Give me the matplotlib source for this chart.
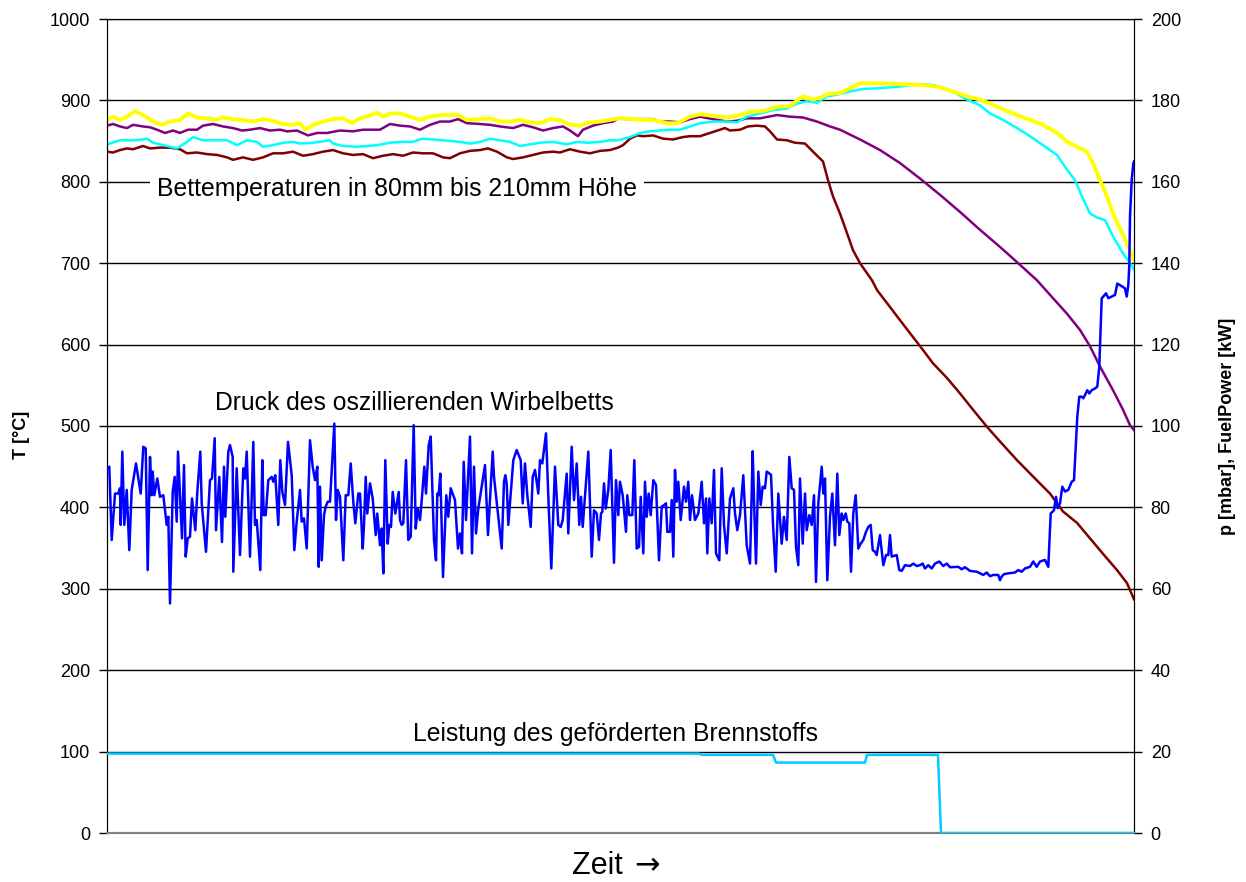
import matplotlib
matplotlib.use("Agg")
import matplotlib.pyplot as plt

plt.rcParams['font.family'] = ['Liberation Sans', 'DejaVu Sans']

# ---- bed temperatures (left axis, °C) ----
t_yellow = [0, 6, 13, 20, 28, 36, 46, 55, 63, 73, 81, 90, 100, 108, 116, 126, 136, 146, 156, 166,
            175, 186, 193, 198, 206, 216, 226, 236, 245, 253, 260, 270, 276, 283, 293, 303, 313, 323,
            333, 343, 351, 360, 373, 383, 393, 403, 413, 423, 433, 443, 453, 463, 473, 483, 493, 503,
            511, 526, 536, 546, 560, 570, 583, 593, 606, 620, 633, 643, 656, 670, 683, 690, 696, 706,
            713, 721, 733, 743, 753, 773, 793, 813, 830, 846, 860, 873, 883, 896, 910, 923, 936, 950,
            960, 970, 980, 986, 993, 1000, 1006, 1013, 1020, 1027]
T_yellow = [876, 880, 876, 880, 887, 882, 874, 870, 874, 876, 884, 879, 878, 876, 879, 877, 876, 874, 877, 875,
            871, 870, 872, 864, 870, 874, 877, 878, 872, 878, 880, 885, 880, 884, 884, 880, 876, 880,
            882, 882, 882, 876, 877, 878, 874, 874, 876, 873, 872, 877, 876, 870, 869, 873, 874, 876,
            878, 877, 876, 876, 872, 872, 880, 883, 881, 879, 882, 886, 887, 892, 893, 900, 905, 901,
            903, 908, 909, 915, 921, 921, 920, 919, 917, 911, 905, 901, 896, 889, 882, 876, 870, 860,
            849, 843, 837, 823, 802, 782, 761, 743, 724, 704]

t_purple = [0, 6, 13, 20, 26, 36, 43, 50, 58, 66, 73, 81, 90, 96, 106, 116, 126, 135, 143, 153,
            163, 173, 180, 190, 201, 210, 220, 233, 246, 256, 266, 273, 283, 293, 303, 313, 323, 333,
            343, 351, 360, 373, 383, 393, 406, 416, 426, 436, 446, 456, 463, 471, 476, 486, 496, 506,
            511, 520, 530, 546, 553, 563, 573, 583, 593, 606, 620, 630, 640, 653, 670, 683, 696, 710,
            723, 733, 753, 773, 793, 813, 833, 853, 873, 893, 913, 930, 946, 960, 973, 983, 993, 1006,
            1016, 1023, 1027]
T_purple = [869, 871, 868, 866, 870, 868, 867, 864, 860, 863, 860, 864, 864, 869, 871, 868, 866, 863, 864, 866,
            863, 864, 862, 863, 857, 860, 860, 863, 862, 864, 864, 864, 871, 869, 868, 864, 870, 874,
            874, 877, 872, 871, 870, 868, 866, 870, 867, 863, 866, 868, 863, 856, 864, 869, 872, 874,
            878, 877, 877, 877, 874, 874, 873, 877, 880, 877, 874, 875, 878, 878, 882, 880, 879, 874,
            868, 864, 852, 839, 823, 804, 784, 763, 741, 720, 698, 679, 657, 638, 618, 598, 573, 544,
            520, 501, 495]

t_cyan = [0, 13, 26, 36, 40, 46, 60, 70, 80, 86, 96, 110, 120, 130, 140, 150, 156, 166, 176, 186,
          193, 206, 223, 226, 236, 250, 260, 270, 283, 293, 306, 315, 326, 336, 353, 363, 373, 383,
          393, 403, 413, 423, 433, 446, 460, 470, 480, 493, 503, 511, 523, 533, 543, 553, 563, 573,
          583, 593, 606, 620, 630, 640, 653, 666, 680, 690, 700, 710, 720, 730, 743, 756, 773, 793,
          810, 826, 840, 850, 860, 873, 883, 896, 910, 923, 936, 950, 960, 968, 975, 983, 990, 998,
          1006, 1016, 1023, 1027]
T_cyan = [846, 851, 851, 852, 853, 848, 844, 841, 849, 855, 851, 851, 851, 845, 851, 849, 843, 845, 848, 849,
          847, 848, 851, 847, 844, 843, 844, 845, 848, 849, 849, 853, 852, 851, 849, 847, 849, 853,
          851, 849, 844, 846, 848, 849, 846, 849, 848, 849, 851, 851, 855, 860, 862, 863, 864, 864,
          868, 872, 874, 874, 873, 880, 884, 888, 890, 896, 899, 897, 905, 907, 911, 914, 915, 917,
          920, 919, 914, 908, 901, 894, 884, 876, 866, 856, 845, 833, 815, 802, 782, 761, 756, 753,
          733, 712, 700, 692]

t_darkred = [0, 6, 13, 20, 26, 36, 43, 53, 63, 73, 80, 90, 100, 110, 120, 126, 136, 146, 156, 166,
             176, 186, 196, 206, 216, 226, 236, 246, 256, 266, 276, 286, 296, 306, 316, 326, 336, 343,
             353, 363, 373, 381, 390, 400, 406, 416, 426, 436, 446, 453, 463, 473, 483, 493, 503, 511,
             516, 523, 530, 536, 546, 556, 566, 576, 583, 593, 603, 613, 618, 623, 633, 641, 650, 658,
             663, 670, 680, 688, 698, 706, 716, 721, 726, 733, 740, 746, 753, 765, 770, 780, 793, 803,
             815, 826, 840, 853, 866, 880, 893, 910, 926, 943, 956, 970, 983, 996, 1010, 1020, 1027]
T_darkred = [837, 836, 839, 841, 840, 844, 841, 842, 842, 840, 835, 836, 834, 833, 830, 827, 830, 827, 830, 835,
             835, 837, 832, 834, 837, 839, 835, 833, 834, 829, 832, 834, 832, 836, 835, 835, 830, 829,
             835, 838, 839, 841, 837, 830, 828, 830, 833, 836, 837, 836, 840, 837, 835, 838, 839, 842,
             845, 853, 857, 856, 857, 853, 852, 855, 856, 856, 860, 864, 866, 863, 864, 868, 869, 868,
             862, 852, 851, 848, 847, 837, 825, 802, 782, 761, 737, 716, 700, 679, 667, 651, 630, 614,
             595, 577, 559, 540, 520, 499, 481, 458, 438, 417, 395, 381, 362, 343, 323, 307, 287]

# ---- fluidised-bed pressure (right axis, mbar) ----
t_druck = [0, 2.3, 4.7, 8, 11.3, 13, 13.7, 15.3, 17.3, 19.7, 22.3, 24.7, 29, 33.7, 36.3, 38.7, 40.7, 43,
           44.7, 45.7, 47.3, 50.3, 53, 56.3, 59.7, 61.3, 63, 65.7, 67.7, 69.7, 71, 75, 77, 78.7, 80.7,
           83, 85, 88.3, 90.3, 93.3, 94.7, 99, 103, 105, 107.7, 109, 112.3, 115, 117, 118.3, 121.3, 123,
           125.7, 126.3, 129.7, 133, 136.3, 138, 139.7, 143, 146.3, 148, 149.7, 153.3, 155.3, 156.7,
           158.7, 161.3, 164.7, 166.3, 168.3, 171.3, 173.3, 175.3, 178, 181, 184.7, 187.3, 189.7, 193,
           194.7, 197, 199.7, 203, 205.7, 208, 210.3, 211.7, 213, 214.7, 217, 218.7, 220.7, 223, 225.3,
           227.3, 229, 230.7, 233, 236.3, 238.7, 241.3, 243.7, 246.3, 248.3, 251.3,
           253, 255.7, 257, 258.7, 260.3, 263, 265.7, 268.7, 270.3, 273, 274.7, 276.3, 278.3, 280.7,
           282.3, 284, 285.7, 288.3, 291.7, 293, 294.7, 296.3, 299, 301.3, 303.7, 306.7, 308.7, 310.7,
           313, 315, 317.3, 319, 321.7, 323.7, 327, 329, 330.3, 331.7, 333.3, 336, 339.3, 341.3, 343.7,
           348, 351, 353, 355, 356.7, 359, 363, 365, 367, 369, 371.3, 378, 381, 385.7, 387, 394.7, 397,
           398.3, 399.7, 401.3, 406.3, 409.7, 413.7, 415.7, 418, 420.3, 423.7, 425.7, 428, 431.3, 433,
           435.3, 439, 441.7, 444.3, 448, 451.3, 453.7, 455.7, 459.7, 461.3, 464.7, 467, 469.7, 472.3,
           474, 475.7, 481.3, 484.7, 487, 489.7, 492, 494, 495.3, 497, 498.7, 501.3,
           503.7, 507, 509, 511.3, 513, 515.7, 519, 520.3, 522.3, 525.3, 527.3, 529.7, 532, 533.7,
           536.3, 538, 539.7, 541.7, 543.7, 546.3, 549, 552, 554.7, 557.3, 559, 560.3, 563, 564.7,
           566.3, 568, 569.7, 571.3, 573.7, 577, 579, 581.3, 583, 585, 588, 591.3, 594.7, 597, 599,
           600.3, 602.3, 604.7, 607, 609, 612.3, 614.7, 617, 619.7, 623, 626.3, 628, 630.3, 633, 636.3,
           639.7, 643, 645.7, 647, 649, 651.3, 653.7, 655.7, 658, 659.7, 662, 664, 666.3, 668.7, 671.3,
           674.7, 677, 679.7, 682.3, 684.7, 687, 689, 691.3, 693, 695.7, 698, 699.7, 702.3, 704.7, 707,
           709, 711.3, 714.7, 716.3, 718, 720.3, 723, 725.3, 728, 730.3, 732.3, 734.7, 736.3, 738.7,
           740.3, 742.3, 744, 746.3, 748.7, 751.3, 753.7, 756.3, 759, 761.3,
           763.7, 765.7, 768, 769.7, 773, 776.3, 779, 781.3, 783, 784.7, 789.7, 792.3, 794.7, 798, 803,
           806.3, 809.7, 813, 815.7, 818, 821.3, 824.7, 828, 832.3, 836.3, 839.7, 843, 851.3, 854.7,
           858, 863, 869.7, 876.3, 879.7, 883, 886.3, 891.3, 893, 894.7, 897, 901.3, 908, 911.3, 914.7,
           918, 923, 926.3, 929.7, 933, 938, 941.3, 943.7, 947, 949, 950.7, 953, 955.3, 958, 961.3,
           964.7, 967, 970.3, 972.3, 974.7, 976.3, 978, 980.3, 982.3, 984.7, 988, 990.3, 992.3, 994.7,
           996.3, 999, 1001.3, 1004.7, 1008, 1010.3, 1013, 1015.7, 1018, 1019.7, 1021.3, 1022.3, 1023,
           1024.7, 1026.3, 1027]
p_druck = [89.2, 90.0, 72.0, 83.4, 83.4, 84.7, 75.7, 93.7, 75.7, 84.3, 69.5, 84.3, 90.8, 83.4, 94.9, 94.5,
           64.6, 92.4, 83.0, 88.8, 83.0, 87.1, 82.6, 83.0, 75.7, 77.7, 56.4, 83.8, 87.5, 76.5, 93.7, 72.4,
           90.4, 67.9, 72.4, 72.8, 82.2, 74.4, 83.8, 93.7, 81.0, 69.1, 86.7, 87.1, 97.0, 74.4, 87.5, 71.5,
           90.0, 77.7, 93.7, 95.3, 92.4, 64.2, 89.6, 68.3, 89.6, 87.1, 93.7, 67.9, 96.1, 75.7, 76.9, 64.6,
           91.6, 78.1, 78.1, 86.7, 87.5, 86.3, 87.9, 75.7, 91.6, 83.8, 80.6, 96.1, 87.9, 69.5, 76.5, 84.3,
           76.5, 77.3, 69.9, 96.5, 90.0, 86.7, 90.0, 65.4, 85.1, 67.0, 78.1, 80.2, 81.4, 81.4, 91.6,
           100.6, 76.9, 84.3, 82.6, 67.0, 83.0, 83.0, 90.8, 81.4, 76.1, 83.4,
           83.4, 69.9, 75.7, 87.5, 78.5, 85.9, 82.2, 73.2, 78.5, 70.7, 74.8, 63.8, 91.6, 71.1, 75.7, 75.2,
           83.8, 78.5, 83.8, 76.9, 75.7, 76.1, 91.6, 72.0, 72.8, 100.2, 74.8, 79.7, 76.9, 82.6, 90.0,
           83.4, 95.3, 97.4, 72.0, 67.0, 83.4, 83.0, 88.3, 62.9, 83.0, 77.7, 84.7, 81.8, 69.9, 73.6, 68.7,
           91.2, 76.9, 97.4, 68.7, 90.0, 73.6, 79.7, 90.4, 73.2, 93.7, 87.5, 69.9, 86.3, 87.9, 85.9, 75.7,
           91.6, 94.1, 91.6, 81.0, 90.8, 83.0, 75.2, 87.5, 89.2, 83.4, 91.6, 90.8, 98.2, 80.2, 65.0, 90.0,
           75.7, 75.2, 76.9, 88.3, 73.6, 94.9, 81.8, 90.8, 75.7, 82.6, 75.2, 93.7, 67.9, 79.3, 78.5, 72.0,
           78.5, 78.9, 85.9, 79.7, 84.3,
           94.1, 66.4, 86.7, 78.1, 86.3, 83.0, 74.0, 83.0, 78.1, 78.1, 91.6, 69.9, 70.3, 82.6, 68.7, 86.3,
           77.7, 83.4, 78.1, 86.7, 85.5, 67.0, 80.2, 80.6, 81.0, 74.0, 74.0, 81.8, 67.9, 89.2, 81.4, 86.3,
           76.9, 85.1, 81.4, 86.3, 76.9, 83.0, 76.9, 78.5, 86.3, 76.1, 82.2, 68.7, 82.2, 76.1, 89.2, 68.7,
           67.0, 89.6, 75.7, 68.7, 82.2, 84.7, 78.5, 74.4, 78.1, 87.9, 70.7, 66.2, 93.8, 81.8, 66.2, 88.8,
           80.6, 85.1, 84.7, 88.8, 88.4, 88.0, 74.4, 64.2, 83.4, 71.1, 77.7, 72.0, 92.4, 84.7, 84.3, 70.3,
           65.8, 87.1, 71.1, 83.4, 74.4, 78.1, 75.7, 83.0, 61.7, 81.0, 90.0, 83.4, 87.1, 62.1, 77.7, 83.4,
           70.7, 88.3, 73.2, 78.5, 76.9, 78.5, 76.5, 76.1, 64.2, 78.5, 83.0, 69.9, 71.1, 72.0, 74.0, 75.2,
           75.7, 69.5, 69.1, 68.3, 73.2, 65.8, 68.3, 68.3, 73.2, 67.9, 68.3, 64.6, 64.4, 65.8, 65.6, 66.2,
           65.6, 65.8, 66.2, 65.0, 65.8, 65.0, 66.2, 66.7, 65.6, 66.2, 65.3, 65.4, 64.8, 65.3, 64.4, 64.2,
           63.4, 64.0, 63.1, 63.4, 63.4, 62.1, 63.0, 63.6, 63.8, 64.0, 64.6, 64.2, 65.0, 65.4, 66.7, 65.4,
           66.7, 67.1, 65.4, 78.5, 79.3, 82.6, 79.8, 81.0, 85.1, 83.9, 84.3, 86.3, 86.7, 102.3, 107.2,
           107.2, 106.8, 107.6, 108.8, 108.0, 108.8, 109.2, 109.7, 114.6, 131.4, 131.8, 132.6, 131.4,
           131.8, 132.2, 135.0, 134.6, 134.2, 133.8, 131.8, 134.6, 139.5, 151.4, 160.4, 164.5, 165.0]

# ---- delivered fuel power (right axis, kW) ----
t_fuel = [0, 592, 595, 666, 669, 758, 760, 831, 834, 1027]
kw_fuel = [19.5, 19.5, 19.2, 19.2, 17.3, 17.3, 19.2, 19.2, 0.0, 0.0]

left_ticks = list(range(0, 1001, 100))
right_ticks = list(range(0, 201, 20))

fig = plt.figure(figsize=(12.46, 8.82), dpi=100)
ax = fig.add_axes([107 / 1246, 49 / 882, 1027 / 1246, 814 / 882])
ax2 = ax.twinx()

ax.set_xlim(0, 1027)
ax.set_ylim(0, 1000)
ax2.set_ylim(0, 200)

for yv in left_ticks[1:]:
    ax.axhline(yv, color='black', lw=1.0, zorder=0.5)

ax.plot(t_darkred, T_darkred, color='#800000', lw=1.8, zorder=3)
ax.plot(t_purple, T_purple, color='#800080', lw=1.8, zorder=3)
ax.plot(t_cyan, T_cyan, color='#00FFFF', lw=1.8, zorder=3)
ax.plot(t_yellow, T_yellow, color='#FFFF00', lw=2.8, zorder=4)

ax2.plot(t_druck, p_druck, color='#0000FF', lw=1.8, zorder=3)
ax2.plot(t_fuel, kw_fuel, color='#00CCFF', lw=1.8, zorder=3)

ax.set_xticks([])
ax.set_yticks(left_ticks)
ax2.set_yticks(right_ticks)
ax.tick_params(axis='y', labelsize=13, length=6, width=1, direction='out', pad=6)
ax2.tick_params(axis='y', labelsize=13, length=6, width=1, direction='out', pad=6)

for a in (ax, ax2):
    a.spines['left'].set_color('black')
    a.spines['right'].set_color('black')
    a.spines['top'].set_color('black')
    a.spines['bottom'].set_color('#808080')
    a.spines['bottom'].set_linewidth(1.5)

ax.text(50, 791, 'Bettemperaturen in 80mm bis 210mm Höhe', fontsize=17.8, ha='left', va='center',
        zorder=5, bbox=dict(facecolor='white', edgecolor='none', boxstyle='square,pad=0.3'))
ax.text(108, 528, 'Druck des oszillierenden Wirbelbetts', fontsize=17.8, ha='left', va='center', zorder=5)
ax.text(306, 122, 'Leistung des geförderten Brennstoffs', fontsize=17.8, ha='left', va='center', zorder=5)

fig.text(22 / 1246, 1 - 435 / 882, 'T [°C]', rotation=90, fontsize=13, fontweight='bold',
         ha='center', va='center')
fig.text(1228 / 1246, 1 - 426 / 882, 'p [mbar], FuelPower [kW]', rotation=90, fontsize=13,
         fontweight='bold', ha='center', va='center')
fig.text(631 / 1246, 1 - 866 / 882, 'Zeit ', fontsize=22, ha='right', va='center')
fig.text(634 / 1246, 1 - 866 / 882, '\u2192', fontsize=22, family='DejaVu Sans',
         ha='left', va='center')

fig.savefig('out.png', dpi=100)
